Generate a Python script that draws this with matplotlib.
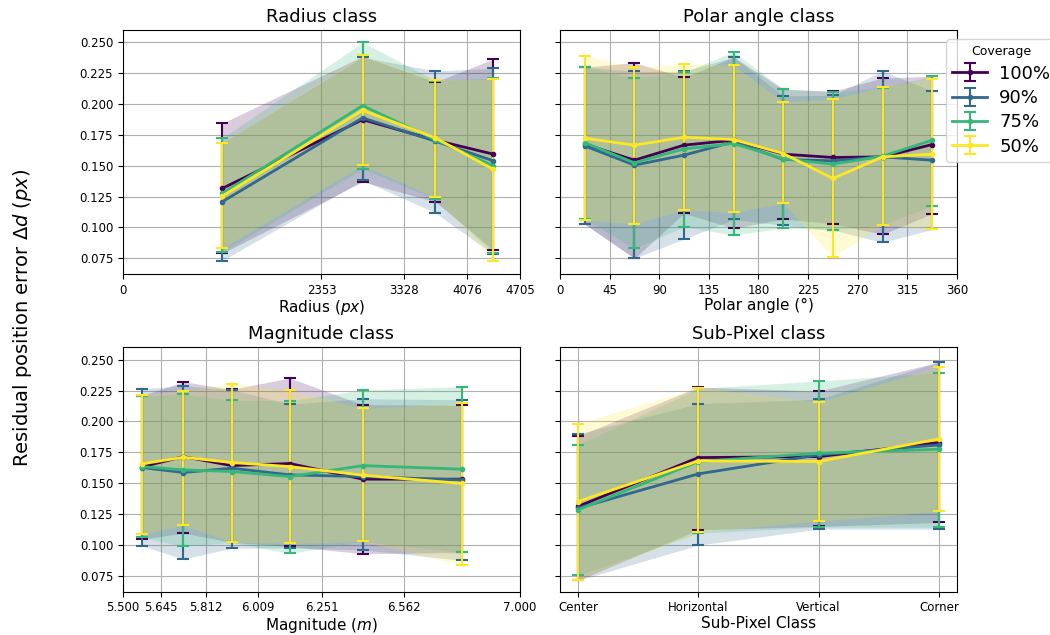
import matplotlib
matplotlib.use("Agg")
import matplotlib.pyplot as plt
import numpy as np

# coverage levels and colours (viridis)
coverage = ["100%", "90%", "75%", "50%"]
colors = ["#440154", "#31688e", "#35b779", "#fde725"]

# bin edges of each class
radius_edges = [0, 2353, 3328, 4076, 4705]
polar_edges = [0, 45, 90, 135, 180, 225, 270, 315, 360]
mag_edges = [5.500, 5.645, 5.812, 6.009, 6.251, 6.562, 7.000]
subpix_labels = ["Center", "Horizontal", "Vertical", "Corner"]

# Radius class (rows: 100, 90, 75, 50 %)
radius_mean = [[0.1316, 0.1874, 0.1707, 0.1594],
               [0.1208, 0.1888, 0.1699, 0.1540],
               [0.1276, 0.1988, 0.1710, 0.1500],
               [0.1254, 0.1950, 0.1726, 0.1470]]
radius_lo = [[0.0790, 0.1370, 0.1208, 0.0817],
             [0.0731, 0.1383, 0.1119, 0.0782],
             [0.0800, 0.1476, 0.1230, 0.0790],
             [0.0830, 0.1505, 0.1243, 0.0731]]
radius_hi = [[0.1845, 0.2387, 0.2179, 0.2365],
             [0.1685, 0.2380, 0.2268, 0.2290],
             [0.1723, 0.2500, 0.2190, 0.2210],
             [0.1685, 0.2395, 0.2198, 0.2200]]

# Polar angle class
polar_mean = [[0.1675, 0.1545, 0.1667, 0.1707, 0.1594, 0.1567, 0.1572, 0.1672],
              [0.1661, 0.1505, 0.1586, 0.1694, 0.1551, 0.1540, 0.1572, 0.1545],
              [0.1686, 0.1524, 0.1637, 0.1680, 0.1556, 0.1513, 0.1578, 0.1707],
              [0.1723, 0.1667, 0.1731, 0.1712, 0.1599, 0.1397, 0.1572, 0.1594]]
polar_lo = [[0.1027, 0.0750, 0.1114, 0.0992, 0.1068, 0.1030, 0.0944, 0.1111],
            [0.1027, 0.0750, 0.0906, 0.1065, 0.1017, 0.0979, 0.0879, 0.0984],
            [0.1070, 0.0830, 0.1006, 0.0938, 0.0995, 0.0980, 0.1020, 0.1176],
            [0.1060, 0.1030, 0.1140, 0.1122, 0.1195, 0.0758, 0.1020, 0.0984]]
polar_hi = [[0.2300, 0.2335, 0.2217, 0.2380, 0.2120, 0.2104, 0.2211, 0.2225],
            [0.2300, 0.2265, 0.2265, 0.2380, 0.2066, 0.2071, 0.2268, 0.2106],
            [0.2300, 0.2210, 0.2260, 0.2422, 0.2122, 0.2100, 0.2133, 0.2225],
            [0.2392, 0.2300, 0.2325, 0.2314, 0.2017, 0.2039, 0.2139, 0.2206]]

# Magnitude class
mag_mean = [[0.1632, 0.1715, 0.1642, 0.1659, 0.1532, 0.1532],
            [0.1626, 0.1586, 0.1621, 0.1567, 0.1553, 0.1526],
            [0.1634, 0.1607, 0.1594, 0.1553, 0.1642, 0.1613],
            [0.1656, 0.1710, 0.1667, 0.1634, 0.1564, 0.1497]]
mag_lo = [[0.1046, 0.1095, 0.1020, 0.0987, 0.0928, 0.0938],
          [0.0990, 0.0885, 0.0973, 0.0973, 0.0960, 0.0874],
          [0.1060, 0.0987, 0.1020, 0.0930, 0.1027, 0.0938],
          [0.1087, 0.1157, 0.1022, 0.1011, 0.1027, 0.0838]]
mag_hi = [[0.2210, 0.2322, 0.2260, 0.2352, 0.2136, 0.2131],
          [0.2265, 0.2290, 0.2257, 0.2141, 0.2184, 0.2176],
          [0.2206, 0.2222, 0.2171, 0.2168, 0.2255, 0.2282],
          [0.2217, 0.2246, 0.2306, 0.2252, 0.2106, 0.2147]]

# Sub-pixel class
subpix_mean = [[0.1311, 0.1707, 0.1715, 0.1828],
               [0.1297, 0.1575, 0.1729, 0.1810],
               [0.1284, 0.1675, 0.1742, 0.1775],
               [0.1351, 0.1680, 0.1675, 0.1858]]
subpix_lo = [[0.0712, 0.1122, 0.1149, 0.1181],
             [0.0712, 0.0998, 0.1127, 0.1127],
             [0.0752, 0.1095, 0.1143, 0.1143],
             [0.0717, 0.1103, 0.1192, 0.1270]]
subpix_hi = [[0.1882, 0.2279, 0.2246, 0.2481],
             [0.1899, 0.2144, 0.2180, 0.2481],
             [0.1810, 0.2268, 0.2327, 0.2395],
             [0.1982, 0.2274, 0.2157, 0.2443]]


def centers(edges):
    e = np.array(edges, dtype=float)
    return (e[:-1] + e[1:]) / 2


def draw(ax, x, mean, lo, hi):
    handles = []
    for i in range(4):
        m = np.array(mean[i])
        l = np.array(lo[i])
        h = np.array(hi[i])
        ax.fill_between(x, l, h, color=colors[i], alpha=0.2, linewidth=0)
        hd = ax.errorbar(x, m, yerr=[m - l, h - m], color=colors[i], lw=2,
                         marker="o", ms=3, capsize=4, elinewidth=1.5,
                         capthick=1.5, label=coverage[i])
        handles.append(hd)
    ax.grid(True)
    ax.set_axisbelow(True)
    ax.set_ylim(0.062, 0.260)
    ax.set_yticks(np.arange(0.075, 0.2501, 0.025))
    ax.tick_params(labelsize=8.5)
    return handles


fig = plt.figure(figsize=(10.5, 6.35), dpi=100)
w, h = 0.3781, 0.3847
ax1 = fig.add_axes([0.1171, 0.568, w, h])
ax2 = fig.add_axes([0.5333, 0.568, w, h], sharey=ax1)
ax3 = fig.add_axes([0.1171, 0.0682, w, h], sharey=ax1)
ax4 = fig.add_axes([0.5333, 0.0682, w, h], sharey=ax1)

# Radius
handles = draw(ax1, centers(radius_edges), radius_mean, radius_lo, radius_hi)
ax1.set_xlim(radius_edges[0], radius_edges[-1])
ax1.set_xticks(radius_edges)
ax1.set_xticklabels([str(v) for v in radius_edges])
ax1.set_xlabel("Radius ($px$)", fontsize=11, labelpad=1)
ax1.set_title("Radius class", fontsize=13)

# Polar angle
draw(ax2, centers(polar_edges), polar_mean, polar_lo, polar_hi)
ax2.set_xlim(0, 360)
ax2.set_xticks(polar_edges)
ax2.set_xlabel("Polar angle (°)", fontsize=11, labelpad=1)
ax2.set_title("Polar angle class", fontsize=13)
ax2.tick_params(labelleft=False)

# Magnitude
draw(ax3, centers(mag_edges), mag_mean, mag_lo, mag_hi)
ax3.set_xlim(mag_edges[0], mag_edges[-1])
ax3.set_xticks(mag_edges)
ax3.set_xticklabels(["%.3f" % v for v in mag_edges])
ax3.set_xlabel("Magnitude ($m$)", fontsize=11, labelpad=1)
ax3.set_title("Magnitude class", fontsize=13)

# Sub-pixel
draw(ax4, np.arange(len(subpix_labels)), subpix_mean, subpix_lo, subpix_hi)
ax4.set_xticks(np.arange(len(subpix_labels)))
ax4.set_xticklabels(subpix_labels)
ax4.set_xlabel("Sub-Pixel Class", fontsize=11, labelpad=1)
ax4.set_title("Sub-Pixel class", fontsize=13)
ax4.tick_params(labelleft=False)

fig.legend(handles=handles, title="Coverage", loc="upper left",
           bbox_to_anchor=(0.901, 0.9386), borderaxespad=0, fontsize=13,
           title_fontsize=9, labelspacing=0.35, handletextpad=0.7,
           handlelength=1.9, borderpad=0.35)

fig.text(0.021, 0.5, r"Residual position error $\Delta d$ ($px$)",
         rotation=90, va="center", ha="center", fontsize=14)

fig.savefig("out.png", dpi=100)
